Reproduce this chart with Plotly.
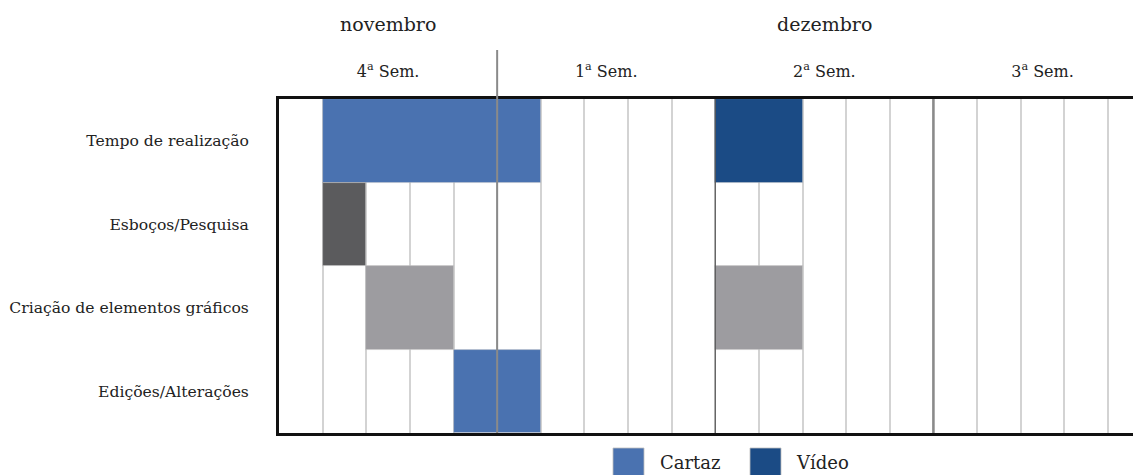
import plotly.graph_objects as go

# ---- data ----
tasks = ["Tempo de realização", "Esboços/Pesquisa",
         "Criação de elementos gráficos", "Edições/Alterações"]

# Cartaz (poster) series: task, start column (day), duration (days)
cartaz_tasks = ["Tempo de realização", "Edições/Alterações"]
cartaz_start = [1, 4]
cartaz_dur = [5, 2]

# Vídeo series
video_tasks = ["Tempo de realização"]
video_start = [10]
video_dur = [2]

# Gray phases (no legend)
esbocos_tasks = ["Esboços/Pesquisa"]
esbocos_start = [1]
esbocos_dur = [1]

criacao_tasks = ["Criação de elementos gráficos", "Criação de elementos gráficos"]
criacao_start = [2, 10]
criacao_dur = [2, 2]

week_labels = ["4<sup>a</sup> Sem.", "1<sup>a</sup> Sem.", "2<sup>a</sup> Sem.", "3<sup>a</sup> Sem."]
week_centers = [2.5, 7.5, 12.5, 17.5]
week_bounds = [5, 10, 15]
months = ["novembro", "dezembro"]
month_centers = [2.5, 12.5]

# ---- style ----
FONT = "DejaVu Serif"
C_CARTAZ = "#4a72b0"
C_VIDEO = "#1b4b85"
C_ESB = "#5b5b5d"
C_CRI = "#9d9ca0"

# page body has an 8px margin; compensate so the plot lands where intended
OFF = 8
SCR_W, SCR_H = 1141, 475
PL, PT, PB = 279, 99, 433          # plot left / top / bottom on screen
W, H = SCR_W - OFF, SCR_H - OFF
L, T = PL - OFF, PT - OFF
B = H - (PB - OFF)
R = 0
plot_w = W - L - R
plot_h = H - T - B
col_px = 43.63
x_max = plot_w / col_px

fig = go.Figure()


def add_bars(y, base, dur, color, name):
    fig.add_trace(go.Bar(
        y=y, x=dur, base=base, orientation="h", name=name,
        marker=dict(color=color, line=dict(color="rgba(200,200,200,0.6)", width=0.8)),
        width=1, showlegend=False, hoverinfo="skip"))


add_bars(cartaz_tasks, cartaz_start, cartaz_dur, C_CARTAZ, "Cartaz")
add_bars(video_tasks, video_start, video_dur, C_VIDEO, "Vídeo")
add_bars(esbocos_tasks, esbocos_start, esbocos_dur, C_ESB, "Esboços")
add_bars(criacao_tasks, criacao_start, criacao_dur, C_CRI, "Criação")


def px_x(p):
    return (p - PL) / plot_w


def px_y(p):
    return (PB - p) / plot_h


shapes = []
# week separators
for i, xb in enumerate(week_bounds):
    if i == 0:
        shapes.append(dict(type="line", xref="x", yref="paper", x0=xb, x1=xb,
                           y0=0, y1=px_y(50),
                           line=dict(color="#8a8a8a", width=2), layer="above"))
    elif i == 1:
        shapes.append(dict(type="line", xref="x", yref="paper", x0=xb, x1=xb,
                           y0=0, y1=1, line=dict(color="#5a5a5a", width=1.2), layer="above"))
    else:
        shapes.append(dict(type="line", xref="x", yref="paper", x0=xb, x1=xb,
                           y0=0, y1=1, line=dict(color="#8a8a8a", width=2.5), layer="above"))

# manual legend (large swatches as in the reference)
legend_items = [("Cartaz", C_CARTAZ, 613, 644, 658), ("Vídeo", C_VIDEO, 750, 781, 794)]
annotations = []
for name, col, x0, x1, tx in legend_items:
    shapes.append(dict(type="rect", xref="paper", yref="paper",
                       x0=px_x(x0), x1=px_x(x1), y0=px_y(448), y1=px_y(482),
                       fillcolor=col, line=dict(color="rgba(190,190,190,0.8)", width=1)))
    annotations.append(dict(text=name, xref="paper", yref="paper", x=px_x(tx), y=px_y(462),
                            xanchor="left", yanchor="middle", showarrow=False,
                            font=dict(family=FONT, size=18, color="#222")))

for m, c in zip(months, month_centers):
    annotations.append(dict(text=m, xref="x", yref="paper", x=c, y=px_y(24),
                            xanchor="center", yanchor="middle", showarrow=False,
                            font=dict(family=FONT, size=19, color="#222")))

fig.update_layout(
    width=W, height=H,
    margin=dict(l=L, r=R, t=T, b=B, pad=0, autoexpand=False),
    paper_bgcolor="white", plot_bgcolor="white",
    barmode="overlay", bargap=0,
    showlegend=False,
    shapes=shapes, annotations=annotations,
    font=dict(family=FONT, size=16, color="#222"),
    xaxis=dict(
        range=[0, x_max], side="top", automargin=False,
        tickmode="array", tickvals=week_centers, ticktext=week_labels,
        ticks="", ticklabelstandoff=13,
        tickfont=dict(family=FONT, size=16, color="#222"),
        showgrid=False, zeroline=False,
        showline=True, mirror="allticks", linecolor="#111", linewidth=3,
        minor=dict(tick0=0, dtick=1, showgrid=True, gridcolor="#d3d3d3", gridwidth=1.5, ticks=""),
        fixedrange=True,
    ),
    yaxis=dict(
        categoryorder="array", categoryarray=tasks[::-1], automargin=False,
        range=[-0.5, len(tasks) - 0.5],
        ticks="", ticklabelstandoff=24,
        tickfont=dict(family=FONT, size=15.6, color="#222"),
        showgrid=False, zeroline=False,
        showline=True, linecolor="#111", linewidth=3,
        fixedrange=True,
    ),
)

fig.write_html("out.html")
